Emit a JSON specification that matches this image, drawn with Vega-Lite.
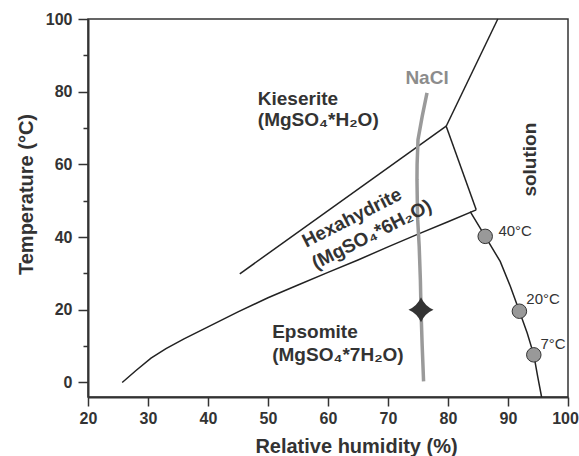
{
  "$schema": "https://vega.github.io/schema/vega-lite/v6.json",
  "width": 480,
  "height": 378,
  "autosize": "none",
  "padding": {"left": 88, "top": 19, "right": 11, "bottom": 59},
  "background": "white",
  "config": {
    "view": {"stroke": "#333333", "strokeWidth": 1.5},
    "font": "Liberation Sans",
    "axis": {
      "grid": false,
      "domainColor": "#333333",
      "domainWidth": 2,
      "tickColor": "#333333",
      "tickWidth": 1.5,
      "labelFont": "Liberation Sans",
      "labelFontWeight": "bold",
      "labelFontSize": 16,
      "labelColor": "#333333",
      "titleFont": "Liberation Sans",
      "titleFontWeight": "bold",
      "titleFontSize": 20,
      "titleColor": "#333333"
    }
  },
  "datasets": {
    "lines": [
      {"seg": "A", "o": 1, "x": 25.7, "y": 0},
      {"seg": "A", "o": 2, "x": 28, "y": 3.3},
      {"seg": "A", "o": 3, "x": 30.5, "y": 6.7},
      {"seg": "A", "o": 4, "x": 33, "y": 9.3},
      {"seg": "A", "o": 5, "x": 36, "y": 12},
      {"seg": "A", "o": 6, "x": 40, "y": 15.3},
      {"seg": "A", "o": 7, "x": 45, "y": 19.4},
      {"seg": "A", "o": 8, "x": 50, "y": 23.3},
      {"seg": "A", "o": 9, "x": 55, "y": 26.8},
      {"seg": "A", "o": 10, "x": 60, "y": 30.3},
      {"seg": "A", "o": 11, "x": 65, "y": 33.7},
      {"seg": "A", "o": 12, "x": 70, "y": 37.3},
      {"seg": "A", "o": 13, "x": 75, "y": 40.8},
      {"seg": "A", "o": 14, "x": 80, "y": 44.2},
      {"seg": "A", "o": 15, "x": 84.7, "y": 47.5},
      {"seg": "B", "o": 1, "x": 45.3, "y": 29.9},
      {"seg": "B", "o": 2, "x": 79.7, "y": 70.5},
      {"seg": "C", "o": 1, "x": 79.7, "y": 70.5},
      {"seg": "C", "o": 2, "x": 88.3, "y": 100},
      {"seg": "D", "o": 1, "x": 79.7, "y": 70.5},
      {"seg": "D", "o": 2, "x": 84.7, "y": 47.5},
      {"seg": "E", "o": 1, "x": 83.7, "y": 47.0},
      {"seg": "E", "o": 2, "x": 86.2, "y": 40.2},
      {"seg": "E", "o": 3, "x": 88.7, "y": 33.3},
      {"seg": "E", "o": 4, "x": 90.4, "y": 26.4},
      {"seg": "E", "o": 5, "x": 91.9, "y": 19.6},
      {"seg": "E", "o": 6, "x": 93.2, "y": 13.6},
      {"seg": "E", "o": 7, "x": 94.3, "y": 7.6},
      {"seg": "E", "o": 8, "x": 94.95, "y": 1.6},
      {"seg": "E", "o": 9, "x": 95.6, "y": -4}
    ],
    "nacl": [
      {"o": 1, "x": 76.5, "y": 79.7},
      {"o": 2, "x": 75.7, "y": 73.2},
      {"o": 3, "x": 75.0, "y": 66.8},
      {"o": 4, "x": 74.85, "y": 60},
      {"o": 5, "x": 74.83, "y": 55.8},
      {"o": 6, "x": 74.9, "y": 48},
      {"o": 7, "x": 74.95, "y": 44.8},
      {"o": 8, "x": 75.2, "y": 37.4},
      {"o": 9, "x": 75.4, "y": 28},
      {"o": 10, "x": 75.5, "y": 20},
      {"o": 11, "x": 75.7, "y": 10},
      {"o": 12, "x": 75.93, "y": 0.3}
    ],
    "circles": [
      {"x": 86.2, "y": 40.2},
      {"x": 91.9, "y": 19.6},
      {"x": 94.3, "y": 7.6}
    ],
    "star": [{"x": 75.5, "y": 20}],
    "phases": [
      {"t": "Kieserite", "x": 48.3, "y": 76.4},
      {"t": "(MgSO₄*H₂O)", "x": 48.3, "y": 70.5},
      {"t": "Epsomite", "x": 50.7, "y": 12.2},
      {"t": "(MgSO₄*7H₂O)", "x": 50.7, "y": 6.0}
    ],
    "hexa": [
      {"t": "Hexahydrite", "x": 64.0, "y": 45.3},
      {"t": "(MgSO₄*6H₂O)", "x": 67.3, "y": 40.7}
    ],
    "solution": [{"t": "solution", "x": 94.7, "y": 61.3}],
    "nacllabel": [{"t": "NaCl", "x": 72.9, "y": 82.2}],
    "temps": [
      {"t": "40°C", "x": 88.4, "y": 41.6},
      {"t": "20°C", "x": 93.05, "y": 23.0},
      {"t": "7°C", "x": 95.4, "y": 10.7}
    ]
  },
  "encoding": {
    "x": {
      "field": "x",
      "type": "quantitative",
      "scale": {"domain": [20, 100], "nice": false, "zero": false},
      "axis": {
        "title": "Relative humidity (%)",
        "values": [20, 30, 40, 50, 60, 70, 80, 90, 100],
        "tickSize": 9,
        "labelPadding": 4,
        "labelFlush": false,
        "labelOverlap": false,
        "labelOffset": {"condition": {"test": "datum.value === 100", "value": -3}, "value": 0},
        "titleX": 268,
        "titleY": 55,
        "titleAlign": "center",
        "titleBaseline": "alphabetic"
      }
    },
    "y": {
      "field": "y",
      "type": "quantitative",
      "scale": {"domain": [-4, 100], "nice": false, "zero": false},
      "axis": {
        "title": "Temperature (°C)",
        "values": [0, 10, 20, 30, 40, 50, 60, 70, 80, 90, 100],
        "labelExpr": "datum.value % 20 === 0 ? datum.label : ''",
        "tickSize": {"condition": {"test": "datum.value % 20 === 0", "value": 10}, "value": 5},
        "labelPadding": 6,
        "labelFlush": false,
        "labelOverlap": false,
        "titleX": -56,
        "titleY": 175,
        "titleAlign": "center",
        "titleBaseline": "alphabetic"
      }
    }
  },
  "layer": [
    {
      "data": {"name": "lines"},
      "mark": {"type": "line", "color": "#222222", "strokeWidth": 1.5},
      "encoding": {"detail": {"field": "seg"}, "order": {"field": "o"}}
    },
    {
      "data": {"name": "nacl"},
      "mark": {"type": "line", "color": "#9a9a9a", "strokeWidth": 3.5},
      "encoding": {"order": {"field": "o"}}
    },
    {
      "data": {"name": "circles"},
      "mark": {"type": "point", "shape": "circle", "filled": true, "fill": "#999999", "stroke": "#333333", "strokeWidth": 1, "size": 210, "opacity": 1},
      "encoding": {}
    },
    {
      "data": {"name": "star"},
      "mark": {"type": "point", "shape": "M0,-1 Q0.3,-0.3 1,0 Q0.3,0.3 0,1 Q-0.3,0.3 -1,0 Q-0.3,-0.3 0,-1 Z", "filled": true, "fill": "#333333", "size": 625, "opacity": 1},
      "encoding": {}
    },
    {
      "data": {"name": "phases"},
      "mark": {"type": "text", "align": "left", "baseline": "alphabetic", "fontSize": 19, "fontWeight": "bold", "color": "#333333", "font": "Liberation Sans"},
      "encoding": {"text": {"field": "t"}}
    },
    {
      "data": {"name": "hexa"},
      "mark": {"type": "text", "align": "center", "baseline": "middle", "angle": -27, "fontSize": 19, "fontWeight": "bold", "color": "#333333", "font": "Liberation Sans"},
      "encoding": {"text": {"field": "t"}}
    },
    {
      "data": {"name": "solution"},
      "mark": {"type": "text", "align": "center", "baseline": "alphabetic", "angle": -90, "fontSize": 19, "fontWeight": "bold", "color": "#333333", "font": "Liberation Sans"},
      "encoding": {"text": {"field": "t"}}
    },
    {
      "data": {"name": "nacllabel"},
      "mark": {"type": "text", "align": "left", "baseline": "alphabetic", "fontSize": 19, "fontWeight": "bold", "color": "#8c8c8c", "font": "Liberation Sans"},
      "encoding": {"text": {"field": "t"}}
    },
    {
      "data": {"name": "temps"},
      "mark": {"type": "text", "align": "left", "baseline": "middle", "fontSize": 15, "fontWeight": "normal", "color": "#333333", "font": "Liberation Sans"},
      "encoding": {"text": {"field": "t"}}
    }
  ]
}
